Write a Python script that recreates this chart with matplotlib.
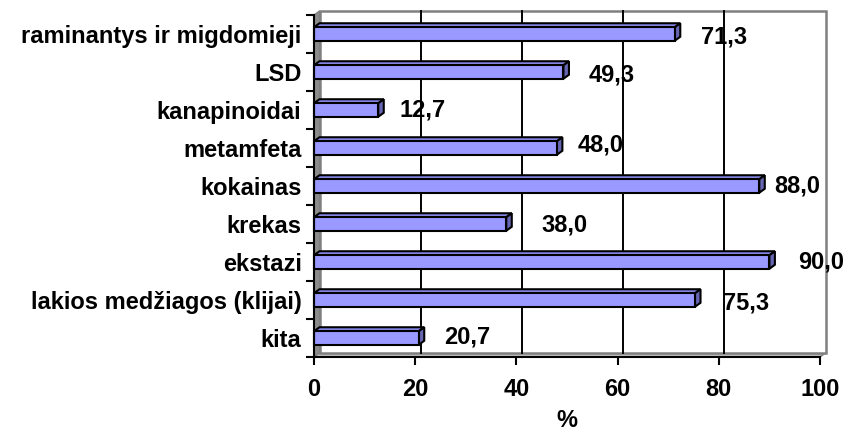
import matplotlib
matplotlib.use("Agg")
import matplotlib.pyplot as plt
from matplotlib.patches import Polygon, Rectangle

categories = ["raminantys ir migdomieji", "LSD", "kanapinoidai", "metamfeta",
              "kokainas", "krekas", "ekstazi", "lakios medžiagos (klijai)", "kita"]
values = [71.3, 49.3, 12.7, 48.0, 88.0, 38.0, 90.0, 75.3, 20.7]
value_labels = ["71,3", "49,3", "12,7", "48,0", "88,0", "38,0", "90,0", "75,3", "20,7"]
xticks = [0, 20, 40, 60, 80, 100]

# label offsets (points) mimicking original placement
label_dx = [15, 14.5, 11, 11, 6.5, 21.5, 17, 16.5, 14.5]
label_dy = [-2, -2, 0, 2, 0, -0.7, 0, -2, 0.7]

plt.rcParams['font.family'] = ['Liberation Sans', 'DejaVu Sans']
plt.rcParams['font.weight'] = 'bold'

FS = 17
W, H = 849, 436
fig = plt.figure(figsize=(W / 100, H / 100), dpi=100)
left, right, top, bottom = 314, 820, 15, 357
ax = fig.add_axes([left / W, 1 - bottom / H, (right - left) / W, (bottom - top) / H])

n = len(categories)
ax.set_xlim(0, 100)
ax.set_ylim(-0.5, n - 0.5)

px_x = 100 / (right - left)
px_y = n / (bottom - top)
dx = 5.5 * px_x
dy = 4 * px_y

ymin, ymax = -0.5, n - 0.5
# left side wall (gray)
ax.add_patch(Polygon([(0, ymin), (dx, ymin + dy), (dx, ymax + dy), (0, ymax)],
                     closed=True, facecolor="#8c8c8c", edgecolor="#808080", lw=1,
                     clip_on=False, zorder=1))
# floor
ax.add_patch(Polygon([(0, ymin), (100, ymin), (100 + dx, ymin + dy), (dx, ymin + dy)],
                     closed=True, facecolor="#c0c0c0", edgecolor="#808080", lw=1,
                     clip_on=False, zorder=1))
# back wall
ax.add_patch(Rectangle((dx, ymin + dy), 100, n, facecolor="white", edgecolor="#808080",
                       lw=1.8, clip_on=False, zorder=1))
# gridlines on back wall
for t in xticks[1:-1]:
    ax.plot([t + dx, t + dx], [ymin + dy, ymax + dy], color="black", lw=1.4,
            clip_on=False, zorder=2)

bar_h = 0.355
face = "#9999FF"
top_c = "#8a8aee"
side_c = "#6666b3"
for i, (v, lab) in enumerate(zip(values, value_labels)):
    yc = n - 1 - i
    y0, y1 = yc - bar_h / 2, yc + bar_h / 2
    # top face
    ax.add_patch(Polygon([(0, y1), (v, y1), (v + dx, y1 + dy), (dx, y1 + dy)], closed=True,
                         facecolor=top_c, edgecolor="black", lw=1.5, zorder=3,
                         clip_on=False, joinstyle="miter"))
    # side face
    ax.add_patch(Polygon([(v, y0), (v + dx, y0 + dy), (v + dx, y1 + dy), (v, y1)], closed=True,
                         facecolor=side_c, edgecolor="black", lw=1.5, zorder=3,
                         clip_on=False, joinstyle="miter"))
    # front face
    ax.add_patch(Rectangle((0, y0), v, bar_h, facecolor=face, edgecolor="black",
                           lw=1.5, zorder=4, clip_on=False, joinstyle="miter"))
    ax.annotate(lab, xy=(v + dx, yc), xytext=(label_dx[i], label_dy[i]),
                textcoords="offset points", ha="left", va="center",
                fontsize=FS, fontweight="bold", zorder=5)

for s in ["top", "right"]:
    ax.spines[s].set_visible(False)
ax.spines["left"].set_linewidth(1.5)
ax.spines["bottom"].set_linewidth(1.5)
ax.spines["left"].set_zorder(6)
ax.spines["bottom"].set_zorder(6)

ax.set_xticks(xticks)
ax.set_xticklabels([str(t) for t in xticks], fontsize=FS, fontweight="bold")
ax.set_yticks([n - 1 - i for i in range(n)])
ax.set_yticklabels(categories, fontsize=FS, fontweight="bold")
ax.set_yticks([k - 0.5 for k in range(n + 1)], minor=True)
ax.tick_params(axis="y", which="major", length=0, pad=9)
ax.tick_params(axis="y", which="minor", length=6, width=1.5, direction="out")
ax.tick_params(axis="x", which="major", length=6, width=1.5, direction="out", pad=9)
ax.set_xlabel("%", fontsize=FS, fontweight="bold", labelpad=6)
ax.set_facecolor("none")

fig.savefig("out.png", dpi=100)
